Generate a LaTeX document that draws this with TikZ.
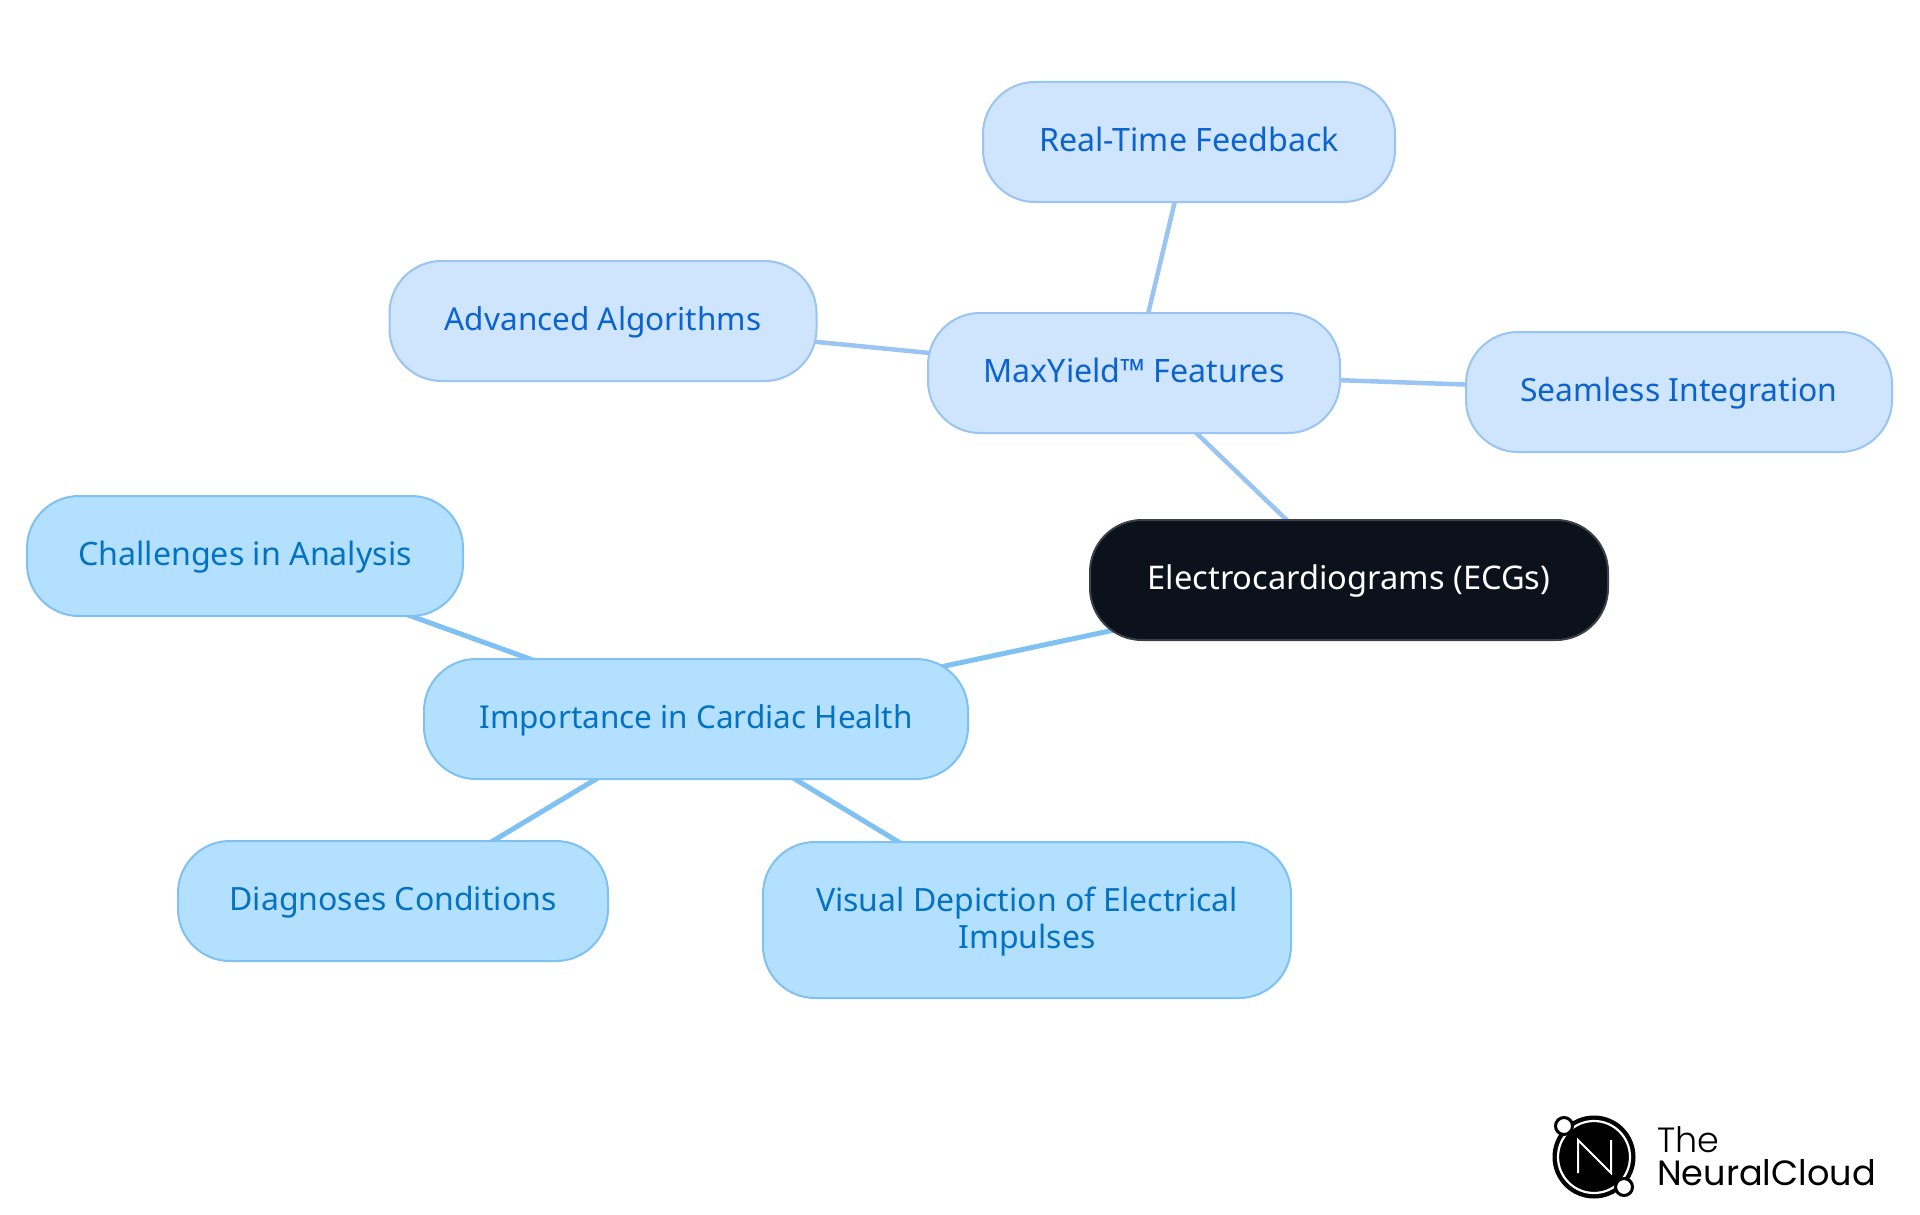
\documentclass[tikz,border=0pt]{standalone}
\usepackage{fontspec}
\setmainfont{Noto Sans}
\newfontfamily\logofont{Poppins Light}
\newfontfamily\logofontb{Poppins}
\usetikzlibrary{backgrounds}
\definecolor{fa}{HTML}{CFE4FD}
\definecolor{ba}{HTML}{9AC4F2}
\definecolor{ta}{HTML}{0B63CE}
\definecolor{fb}{HTML}{B4E0FF}
\definecolor{bb}{HTML}{7FC1F2}
\definecolor{tb}{HTML}{0472C2}
\definecolor{dk}{HTML}{0B121B}
\tikzset{x=1pt,y=-1pt,
  pill/.style={rectangle,rounded corners=52pt,line width=2pt,inner sep=0pt,align=center,
     text height=24pt,text depth=4.2pt},
  ts/.style={font=\fontsize{#1}{36.6}\selectfont},
  pa/.style={pill,fill=fa,draw=ba,text=ta},
  pb/.style={pill,fill=fb,draw=bb,text=tb},
  root/.style={pill,fill=dk,draw=dk!80!white,text=white},
  la/.style={draw=ba,line width=4.5pt},
  lb/.style={draw=bb,line width=5pt},
  logotext/.style={anchor=base west,inner sep=0pt,text=black}}
\begin{document}
\begin{tikzpicture}
\useasboundingbox (0,0) rectangle (1920,1215);
\node[root,ts=32.6,minimum width=518pt,minimum height=120pt] (ecg) at (1349,580) {Electrocardiograms (ECGs)};
\node[pa,ts=32.2,minimum width=412pt,minimum height=120pt] (max) at (1134,373) {MaxYield™ Features};
\node[pa,ts=32.2,minimum width=412pt,minimum height=120pt] (rt) at (1189,142) {Real-Time Feedback};
\node[pa,ts=31.5,minimum width=427pt,minimum height=120pt] (adv) at (603,321) {Advanced Algorithms};
\node[pa,ts=31.9,minimum width=426pt,minimum height=120pt] (sea) at (1679,392) {Seamless Integration};
\node[pb,ts=31.5,minimum width=544pt,minimum height=120pt] (imp) at (696,719) {Importance in Cardiac Health};
\node[pb,ts=32.2,minimum width=436pt,minimum height=120pt] (cha) at (245,556) {Challenges in Analysis};
\node[pb,ts=32,minimum width=430pt,minimum height=120pt] (dia) at (393,901) {Diagnoses Conditions};
\node[pb,ts=32,text height=60.6pt,text depth=4pt,minimum width=528pt,minimum height=156pt] (vis) at (1027,920) {Visual Depiction of Electrical\\Impulses};
\begin{scope}[on background layer]
\draw[la] (ecg.center) -- (max.center);
\draw[la] (max.center) -- (rt.center);
\draw[la] (max.center) -- (adv.center);
\draw[la] (max.center) -- (sea.center);
\draw[lb] (ecg.center) -- (imp.center);
\draw[lb] (imp.center) -- (cha.center);
\draw[lb] (imp.center) -- (dia.center);
\draw[lb] (imp.center) -- (vis.center);
\end{scope}
% logo
\fill[black] (1594,1157) circle (41.5);
\draw[white,line width=2.2pt] (1594,1157) circle (36);
\draw[white,line width=2pt,line join=miter] (1578,1173) -- (1578,1140) -- (1611,1173) -- (1611,1140);
\fill[white,draw=black,line width=3pt] (1564,1126) circle (8.5);
\fill[white,draw=black,line width=3pt] (1624,1187) circle (8.5);
\node[logotext,font=\logofont\fontsize{35}{36}\selectfont] (the) at (1657,1152) {The};
\node[logotext,font=\logofontb\fontsize{35.1}{36}\selectfont] (nc) at (1657,1185) {NeuralCloud};
\end{tikzpicture}
\end{document}
